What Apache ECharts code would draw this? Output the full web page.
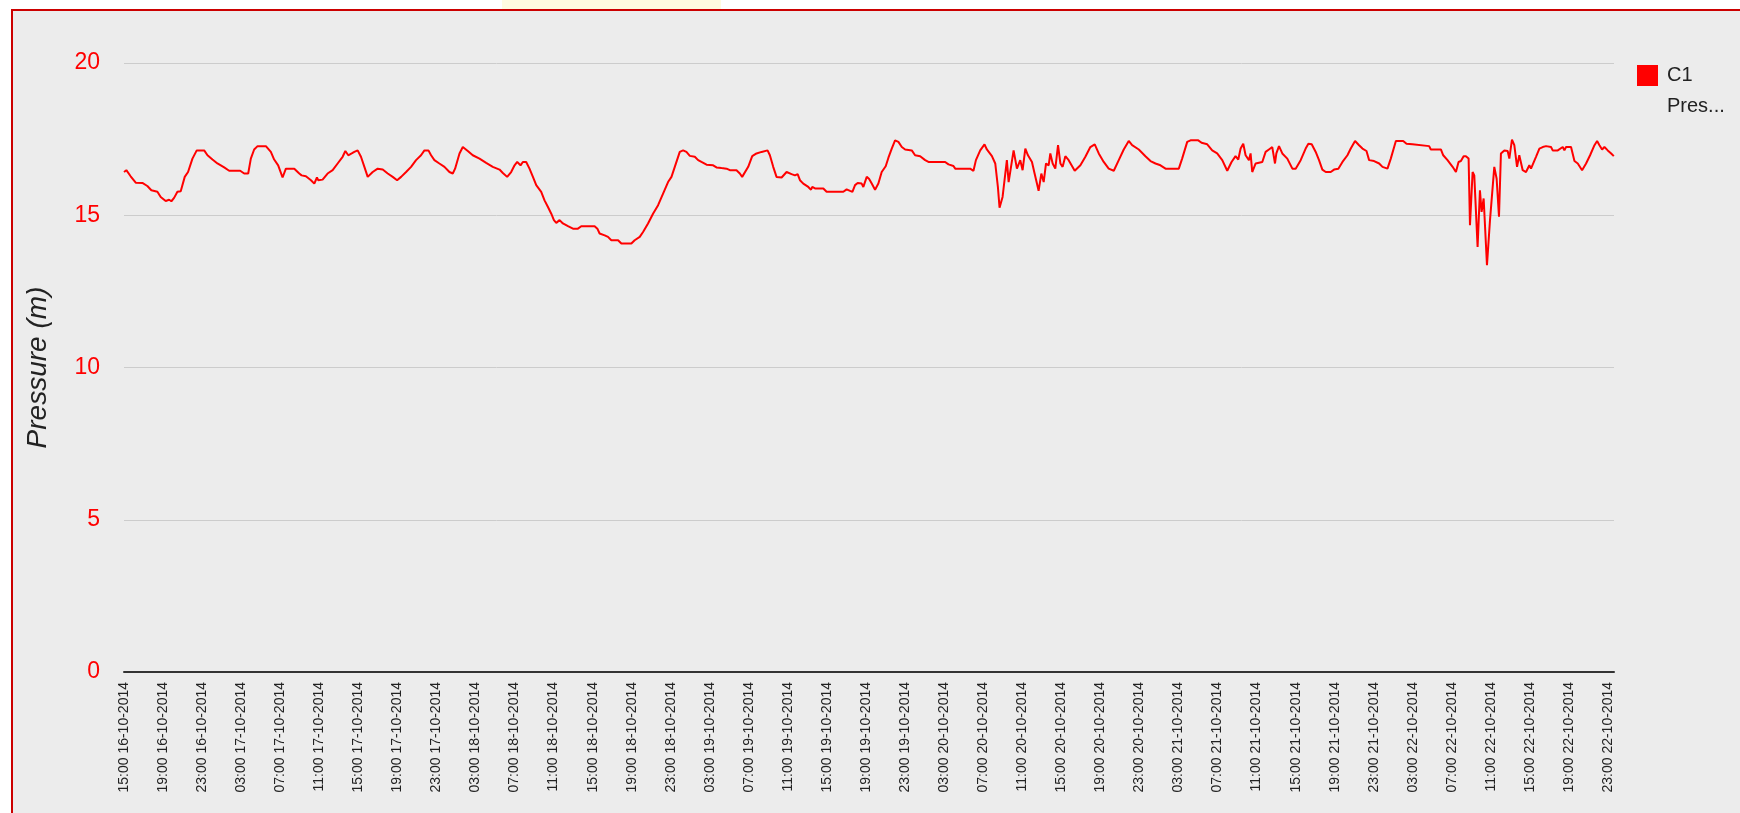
<!DOCTYPE html>
<html>
<head>
<meta charset="utf-8">
<title>C1 Pressure</title>
<script src="https://cdn.jsdelivr.net/npm/echarts@6/dist/echarts.min.js"></script>
<style>
  body { margin: 0; background: #fff; overflow: hidden; }
  #frame { position: absolute; left: 11px; top: 9px; width: 1800px; height: 900px; border: 2px solid #cc0000; background: #ececec; }
  #strip { position: absolute; left: 502px; top: 0; width: 219px; height: 9px; background: #fffbe0; }
  #chart { position: absolute; left: 0; top: 0; width: 1740px; height: 813px; }
</style>
</head>
<body>
<div id="frame"></div>
<div id="strip"></div>
<div id="chart"></div>
<script>
// tick labels every 4 hours, starting at 15:00 16-10-2014
var tickLabels = [
  '15:00 16-10-2014', '19:00 16-10-2014', '23:00 16-10-2014',
  '03:00 17-10-2014', '07:00 17-10-2014', '11:00 17-10-2014', '15:00 17-10-2014', '19:00 17-10-2014', '23:00 17-10-2014',
  '03:00 18-10-2014', '07:00 18-10-2014', '11:00 18-10-2014', '15:00 18-10-2014', '19:00 18-10-2014', '23:00 18-10-2014',
  '03:00 19-10-2014', '07:00 19-10-2014', '11:00 19-10-2014', '15:00 19-10-2014', '19:00 19-10-2014', '23:00 19-10-2014',
  '03:00 20-10-2014', '07:00 20-10-2014', '11:00 20-10-2014', '15:00 20-10-2014', '19:00 20-10-2014', '23:00 20-10-2014',
  '03:00 21-10-2014', '07:00 21-10-2014', '11:00 21-10-2014', '15:00 21-10-2014', '19:00 21-10-2014', '23:00 21-10-2014',
  '03:00 22-10-2014', '07:00 22-10-2014', '11:00 22-10-2014', '15:00 22-10-2014', '19:00 22-10-2014', '23:00 22-10-2014'
];

// hours since 15:00 16-10-2014
var hours = [
  0, 0.24, 0.68, 1.2, 1.88, 2.39, 2.8, 3.42, 3.76, 4.27, 4.62, 4.85, 5.13, 5.47, 5.81, 6.22, 6.56, 7.01, 7.45, 8.21,
  8.55, 9.06, 9.57, 10.26, 10.77, 11.9, 12.31, 12.72, 12.99, 13.33, 13.68, 14.53, 15.04, 15.38, 15.79, 16.24, 16.58, 17.44, 17.95, 18.19,
  18.63, 19.15, 19.49, 19.76, 19.9, 20.34, 20.85, 21.37, 21.88, 22.39, 22.67, 22.97, 23.32, 23.59, 23.93, 24.27, 24.62, 24.96, 25.47, 25.98,
  26.5, 27.01, 27.52, 27.97, 28.38, 28.89, 29.4, 29.91, 30.42, 30.77, 31.18, 31.45, 31.79, 32.3, 32.82, 33.33, 33.67, 33.91, 34.36, 34.7,
  35.21, 35.72, 36.41, 37.09, 37.77, 38.46, 38.8, 39.24, 39.65, 40.0, 40.27, 40.61, 40.85, 41.19, 41.53, 41.88, 42.22, 42.73, 43.07, 43.42,
  43.76, 44.03, 44.27, 44.61, 44.95, 45.47, 45.98, 46.49, 46.83, 48.2, 48.48, 48.71, 49.23, 49.57, 49.91, 50.6, 50.94, 51.96, 52.3, 52.82,
  53.16, 53.67, 54.18, 54.7, 55.21, 55.72, 56.07, 56.41, 56.92, 57.26, 57.6, 57.95, 58.46, 58.8, 59.14, 59.66, 60.34, 60.68, 61.19, 61.71,
  62.05, 62.73, 63.07, 63.31, 63.5, 63.93, 64.34, 64.78, 65.3, 65.91, 66.15, 66.49, 66.83, 67.35, 67.86, 68.37, 68.72, 68.99, 69.23, 69.57,
  70.08, 70.36, 70.49, 70.77, 71.62, 71.96, 73.67, 74.01, 74.36, 74.6, 74.87, 75.14, 75.55, 75.72, 76.07, 76.3, 76.58, 76.92, 77.26, 77.6,
  78.01, 78.29, 78.63, 78.97, 79.31, 79.66, 80.0, 80.68, 81.02, 81.54, 82.05, 82.39, 84.1, 84.44, 84.95, 85.13, 86.66, 87.0, 87.25, 87.69,
  88.13, 88.37, 88.89, 89.23, 89.5, 89.67, 89.98, 90.42, 90.6, 91.11, 91.45, 91.79, 92.03, 92.31, 92.58, 92.99, 93.26, 93.5, 93.67, 93.95,
  94.19, 94.43, 94.7, 94.87, 95.11, 95.38, 95.66, 95.9, 96.13, 96.41, 96.75, 97.37, 97.95, 98.46, 98.97, 99.42, 99.83, 100.34, 100.85, 101.37,
  101.88, 102.39, 102.9, 103.25, 103.93, 104.61, 105.13, 105.64, 106.15, 106.67, 108.03, 108.37, 108.89, 109.23, 110.02, 110.36, 110.94, 111.45, 111.96, 112.48,
  112.99, 113.43, 113.84, 114.12, 114.36, 114.63, 114.87, 115.21, 115.38, 115.55, 115.9, 116.58, 116.92, 117.26, 117.6, 117.88, 118.02, 118.29, 118.63, 119.14,
  119.66, 120.0, 120.51, 121.02, 121.3, 121.64, 122.05, 122.39, 122.73, 123.08, 123.59, 123.93, 124.37, 124.79, 125.3, 125.64, 126.08, 126.49, 126.84, 127.25,
  127.52, 127.69, 128.03, 128.55, 128.89, 129.4, 129.74, 130.26, 131.01, 131.35, 131.96, 132.14, 133.67, 133.84, 134.87, 135.11, 135.55, 136.07, 136.41, 136.68,
  136.92, 137.2, 137.43, 137.71, 137.85, 138.12, 138.29, 138.63, 138.87, 139.04, 139.25, 139.42, 139.59, 139.9, 140.34, 140.58, 140.82, 141.02, 141.37, 141.71,
  141.88, 142.15, 142.39, 142.67, 142.9, 143.25, 143.59, 143.93, 144.1, 144.61, 144.96, 145.3, 145.64, 146.15, 146.32, 146.84, 147.01, 147.35, 147.52, 147.69,
  148.2, 148.55, 148.89, 149.33, 149.74, 150.15, 150.6, 150.87, 151.11, 151.38, 151.62, 151.96, 152.31, 152.58
];

// C1 pressure (m)
var pressure = [
  16.42, 16.48, 16.28, 16.07, 16.06, 15.96, 15.82, 15.77, 15.60, 15.47, 15.51, 15.46, 15.57, 15.77, 15.79, 16.26, 16.42, 16.86, 17.13, 17.13,
  16.97, 16.83, 16.70, 16.57, 16.46, 16.46, 16.37, 16.37, 16.86, 17.16, 17.27, 17.27, 17.08, 16.83, 16.64, 16.24, 16.53, 16.53, 16.37, 16.31,
  16.28, 16.15, 16.04, 16.24, 16.15, 16.17, 16.37, 16.48, 16.70, 16.92, 17.11, 16.97, 17.03, 17.08, 17.13, 16.92, 16.59, 16.26, 16.42, 16.53,
  16.50, 16.37, 16.26, 16.15, 16.26, 16.42, 16.59, 16.81, 16.97, 17.13, 17.13, 16.97, 16.81, 16.70, 16.59, 16.42, 16.37, 16.53, 17.03, 17.24,
  17.11, 16.97, 16.86, 16.72, 16.59, 16.50, 16.39, 16.26, 16.42, 16.64, 16.75, 16.64, 16.75, 16.75, 16.53, 16.26, 15.99, 15.77, 15.49, 15.27,
  15.05, 14.84, 14.75, 14.84, 14.73, 14.64, 14.56, 14.56, 14.64, 14.64, 14.56, 14.40, 14.34, 14.29, 14.18, 14.18, 14.07, 14.07, 14.18, 14.29,
  14.45, 14.73, 15.05, 15.33, 15.71, 16.09, 16.26, 16.59, 17.08, 17.13, 17.08, 16.95, 16.92, 16.81, 16.75, 16.66, 16.64, 16.57, 16.55, 16.53,
  16.48, 16.48, 16.37, 16.26, 16.28, 16.59, 16.94, 17.03, 17.08, 17.13, 16.97, 16.59, 16.26, 16.24, 16.42, 16.35, 16.31, 16.35, 16.15, 16.04,
  15.93, 15.84, 15.93, 15.88, 15.88, 15.77, 15.77, 15.85, 15.80, 15.77, 15.99, 16.06, 16.04, 15.93, 16.26, 16.20, 16.04, 15.84, 16.04, 16.42,
  16.61, 16.89, 17.19, 17.46, 17.41, 17.24, 17.16, 17.13, 16.97, 16.94, 16.81, 16.75, 16.75, 16.67, 16.62, 16.53, 16.53, 16.46, 16.81, 17.13,
  17.33, 17.16, 16.94, 16.70, 15.93, 15.25, 15.60, 16.81, 16.09, 17.13, 16.53, 16.81, 16.48, 17.19, 16.97, 16.75, 16.37, 16.04, 15.80, 16.37,
  16.09, 16.70, 16.64, 17.03, 16.70, 16.53, 17.30, 16.70, 16.59, 16.94, 16.81, 16.46, 16.64, 16.92, 17.24, 17.33, 17.03, 16.75, 16.53, 16.46,
  16.81, 17.16, 17.44, 17.30, 17.16, 16.94, 16.78, 16.70, 16.64, 16.53, 16.53, 16.86, 17.41, 17.46, 17.46, 17.38, 17.33, 17.13, 17.03, 16.81,
  16.46, 16.75, 16.94, 16.83, 17.19, 17.35, 16.97, 16.81, 17.03, 16.42, 16.70, 16.75, 17.08, 17.16, 17.24, 16.70, 17.03, 17.27, 17.03, 16.86,
  16.53, 16.53, 16.81, 17.19, 17.35, 17.33, 17.08, 16.81, 16.50, 16.42, 16.42, 16.50, 16.53, 16.75, 16.97, 17.19, 17.44, 17.30, 17.19, 17.11,
  16.81, 16.86, 16.78, 16.70, 16.59, 16.53, 16.86, 17.44, 17.44, 17.35, 17.33, 17.27, 17.27, 17.16, 17.16, 16.97, 16.81, 16.59, 16.42, 16.75,
  16.78, 16.94, 16.94, 16.86, 14.67, 16.42, 16.31, 13.96, 15.82, 15.11, 15.55, 15.49, 13.36, 14.84, 16.59, 16.20, 14.95, 17.03, 17.13, 17.11,
  16.86, 17.48, 17.30, 16.59, 16.97, 16.48, 16.42, 16.64, 16.53, 16.92, 17.19, 17.24, 17.27, 17.24, 17.13, 17.13, 17.19, 17.24, 17.13, 17.24,
  17.24, 16.78, 16.70, 16.48, 16.70, 16.97, 17.30, 17.44, 17.30, 17.16, 17.24, 17.13, 17.03, 16.94
];

var seriesData = hours.map(function (h, i) { return [h, pressure[i]]; });

var myChart = echarts.init(document.getElementById('chart'));

myChart.setOption({
  animation: false,
  backgroundColor: 'transparent',
  textStyle: { fontFamily: '"Liberation Sans", Arial, sans-serif' },
  grid: { left: 124, right: 126, top: 63, bottom: 141 },
  legend: {
    left: 1637,
    top: 65,
    padding: 0,
    icon: 'rect',
    itemWidth: 21,
    itemHeight: 21,
    formatter: function () { return 'C1'; },
    textStyle: { fontSize: 20, color: '#222', padding: [0, 0, 0, 4] },
    data: ['C1 Pressure']
  },
  graphic: [
    {
      type: 'text',
      left: 1667,
      top: 96,
      style: { text: 'Pres...', fontSize: 20, fill: '#222', font: '20px "Liberation Sans", Arial, sans-serif' }
    }
  ],
  xAxis: {
    type: 'value',
    min: 0,
    max: 152.6,
    interval: 4,
    axisLine: { show: true, lineStyle: { color: '#333', width: 2 } },
    axisTick: { show: false },
    splitLine: { show: false },
    axisLabel: {
      rotate: 90,
      margin: 10,
      fontSize: 14,
      color: '#222',
      showMaxLabel: false,
      formatter: function (v) {
        var i = Math.round(v / 4);
        if (Math.abs(v - i * 4) > 1e-6) return '';
        return tickLabels[i] || '';
      }
    }
  },
  yAxis: {
    type: 'value',
    min: 0,
    max: 20,
    interval: 5,
    name: 'Pressure (m)',
    nameLocation: 'middle',
    nameGap: 72,
    nameTextStyle: { fontSize: 28, fontStyle: 'italic', color: '#222' },
    axisLine: { show: false },
    axisTick: { show: false },
    splitLine: { lineStyle: { color: '#cccccc', width: 1 } },
    axisLabel: { fontSize: 23, color: '#ff0000', margin: 24 }
  },
  series: [
    {
      name: 'C1 Pressure',
      type: 'line',
      data: seriesData,
      showSymbol: false,
      symbol: 'none',
      lineStyle: { color: '#ff0000', width: 2 },
      itemStyle: { color: '#ff0000' }
    }
  ]
});

window.onresize = function () {
  myChart.resize();
};
</script>
</body>
</html>
